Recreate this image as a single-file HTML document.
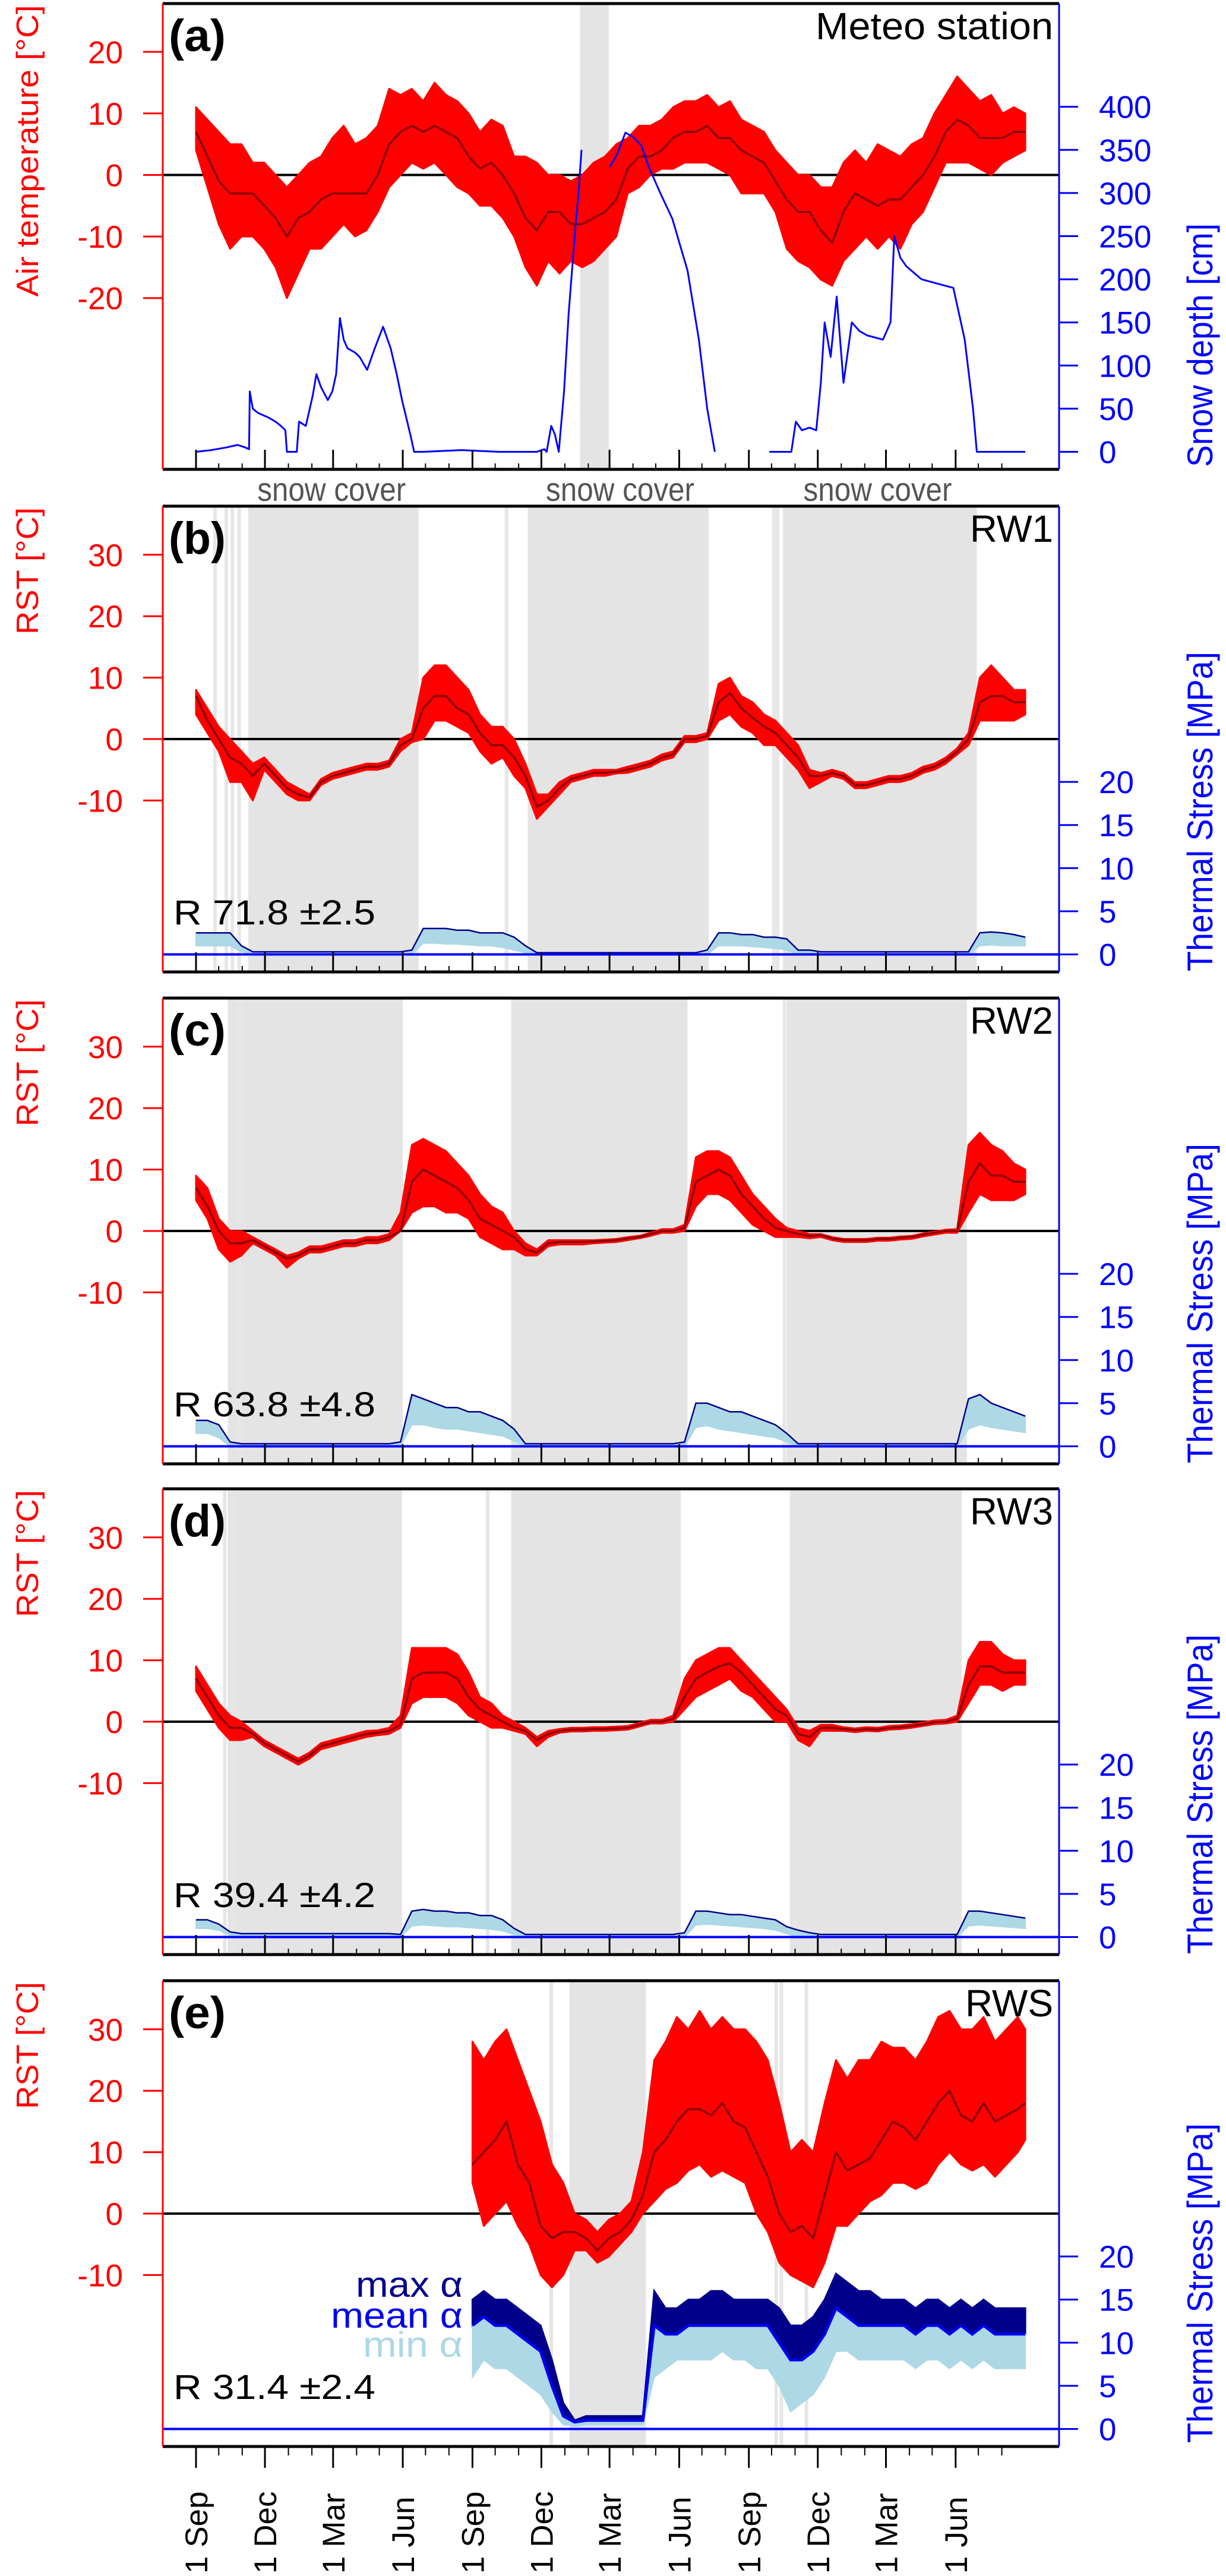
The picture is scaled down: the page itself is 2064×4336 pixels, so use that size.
<!DOCTYPE html>
<html><head><meta charset="utf-8">
<style>
html,body{margin:0;padding:0;background:#fff;}
svg{display:block;font-family:"Liberation Sans",Arial,sans-serif;}
</style></head>
<body>
<svg id="fig" xmlns="http://www.w3.org/2000/svg" width="2064" height="4336" viewBox="0 0 2064 4336"></svg>
<script>
// ---------------- data ----------------
const days15 = [0,15,30,45,60,75,90,105,120,135,150,165,180,195,210,225,240,255,270,285,300,315,330,345,360,375,390,405,420,435,450,465,480,495,510,525,540,555,570,585,600,615,630,645,660,675,690,705,720,735,750,765,780,795,810,825,840,855,870,885,900,915,930,945,960,975,990,1005,1020,1035,1050,1065,1080,1095];
const majorTickDays = [0,91,181,273,365,456,546,638,730,821,911,1003];
const majorTickLabels = ["1 Sep","1 Dec","1 Mar","1 Jun","1 Sep","1 Dec","1 Mar","1 Jun","1 Sep","1 Dec","1 Mar","1 Jun"];
const minorTickDays = [30,61,122,153,212,242,303,334,395,426,487,518,577,607,668,699,760,791,852,883,942,972,1033,1064];

// panel a: air temperature
const aHi = [11,9,7,5,5,2,2,0,-2,0,2,3,6,8,5,6,8,14,13,14,12,15,13,12,10,7,9,8,3,3,2,0,0,-1,0,2,3,5,6,8,8,9,11,12,12,13,11,12,9,8,7,4,2,0,0,-2,-2,2,4,2,5,4,3,5,6,10,13,16,14,12,13,10,11,10];
const aLo = [4,-2,-8,-12,-10,-10,-12,-15,-20,-16,-12,-12,-10,-8,-10,-9,-6,-2,0,2,1,2,0,-2,-3,-5,-5,-7,-10,-15,-18,-14,-16,-14,-15,-14,-12,-10,-3,-2,0,1,1,2,2,2,1,0,-3,-3,-3,-6,-12,-14,-15,-17,-18,-14,-12,-10,-12,-10,-12,-8,-6,-2,2,2,2,1,0,2,3,4];
const aMean = [7,3,-1,-3,-3,-3,-5,-7,-10,-7,-6,-4,-3,-3,-3,-3,0,5,7,8,7,8,7,6,3,1,2,0,-3,-7,-9,-6,-6,-8,-8,-7,-6,-4,1,3,3,4,6,7,7,8,6,6,4,3,2,-1,-4,-6,-6,-9,-11,-6,-3,-4,-5,-4,-4,-2,0,3,7,9,8,6,6,6,7,7];
const snowDay = [0,20,40,55,65,70,71,75,82,95,105,112,118,120,133,136,145,154,159,165,174,180,185,190,195,200,210,216,226,236,247,257,265,272,283,288,300,350,400,450,460,463,469,474,479,486,492,500,505,509,525,546,556,567,577,588,598,613,629,649,664,675,685,720,757,786,792,800,810,819,825,830,838,846,855,866,876,886,907,917,922,930,938,958,979,1000,1015,1026,1031,1050,1095];
const snowCm = [0,2,5,8,5,3,70,50,45,40,35,30,25,0,0,35,30,65,90,75,60,70,90,155,130,120,115,110,95,120,145,120,90,60,20,0,0,2,0,0,3,0,30,20,0,70,160,250,300,350,null,330,345,370,365,355,330,300,270,210,130,50,0,null,0,0,35,25,28,25,80,150,110,180,80,150,140,135,130,150,250,225,215,200,195,190,130,50,0,0,0];

// panel b: RW1
const bMean = [7,3,0,-3,-4,-6,-4,-6,-8,-9,-9.5,-7,-6,-5.5,-5,-4.5,-4.5,-4,-1,0,5,7,7,5,4,1,-1,-1,-3,-6,-11,-10,-8,-6.5,-6,-5.5,-5.5,-5.3,-5,-4.5,-4,-3,-2.5,0,0,0.5,6,7.5,5,3.5,2,1,-1,-3,-6,-6,-5.5,-6,-7.5,-7.5,-7,-6.5,-6.5,-6,-5,-4.5,-3.5,-2,0,6,7,7,6,6];
const bHi = [8,5,2,0,-2,-4,-3,-5,-7,-8,-9,-6.5,-5.5,-5,-4.5,-4,-4,-3.5,0,1,10,12,12,10,8,4,2,2,0,-4,-9,-9,-7,-6,-5.5,-5,-5,-5,-4.5,-4,-3.5,-2.5,-2,0.5,0.5,1,9,10,7,6,4,3,1,-1,-5,-5.5,-5,-5.5,-7,-7,-6.5,-6,-6,-5.5,-4.5,-4,-3,-1.5,1,10,12,10,8,8];
const bLo = [4,1,-2,-7,-7,-10,-5,-7,-9,-10,-10,-7.5,-6.5,-6,-5.5,-5,-5,-4.5,-2,-0.5,0,3,3,2,1,-2,-4,-3,-6,-8,-13,-11,-9,-7,-6.5,-6,-6,-5.6,-5.5,-5,-4.5,-3.5,-3,-0.5,-0.5,0,3,4,2,1,-1,-1,-3,-5,-8,-7,-6,-6.5,-8,-8,-7.5,-7,-7,-6.5,-5.5,-5,-4,-2.5,-1,3,3,3,3,4];
const bStressMax = [2.5,2.5,2.5,2.5,1,0.3,0.3,0.3,0.3,0.3,0.3,0.3,0.3,0.3,0.3,0.3,0.3,0.3,0.3,0.5,3,3,3,2.8,2.8,2.5,2.5,2.5,2,1,0.2,0.2,0.2,0.2,0.2,0.2,0.2,0.2,0.2,0.2,0.2,0.2,0.2,0.2,0.2,0.5,2.5,2.5,2.3,2.3,2,2,1.8,0.5,0.5,0.3,0.3,0.3,0.3,0.3,0.3,0.3,0.3,0.3,0.3,0.3,0.3,0.3,0.3,2.5,2.6,2.5,2.3,2];
const bStressMin = [1,1,1,1,0.3,0,0,0,0,0,0,0,0,0,0,0,0,0,0,0,1.3,1.3,1.2,1.2,1.1,1,1,0.8,0.5,0.2,0,0,0,0,0,0,0,0,0,0,0,0,0,0,0,0,1,1,1,0.9,0.8,0.7,0.5,0,0,0,0,0,0,0,0,0,0,0,0,0,0,0,0,1,1.1,1,1,1];
const bBands = [[69,294],[438,677],[775,1031]];
const bLines = [25,40,48,57,410,763,768];

// panel c: RW2
const cMean = [7,4,0,-2,-2,-1.5,-2.5,-3.5,-4.5,-4,-3,-3,-2.5,-2,-2,-1.5,-1.5,-1,0,8,10,9,8,7,5,2,1,0,-1,-3,-3.5,-2,-1.8,-1.8,-1.8,-1.7,-1.6,-1.5,-1.2,-1,-0.5,0,0,0.5,8,9,10,9,6,4,2,0.5,0,-0.5,-0.8,-0.7,-1.2,-1.5,-1.5,-1.5,-1.3,-1.3,-1.1,-1,-0.6,-0.3,0,0,8,11,9,9,8,8];
const cHi = [9,7,2,0,0,-1,-2,-3,-4,-3.5,-2.5,-2.5,-2,-1.5,-1.5,-1,-1,-0.5,3,14,15,14,13,11,9,6,4,3,0,-2,-3,-1.5,-1.5,-1.5,-1.5,-1.5,-1.4,-1.3,-1,-0.8,-0.3,0.3,0.3,1,12,13,13,12,9,6,4,2,0.5,0,-0.5,-0.5,-1,-1.3,-1.3,-1.3,-1.1,-1.1,-0.9,-0.8,-0.4,-0.1,0.2,0.3,14,16,14,13,11,10];
const cLo = [5,2,-3,-5,-4,-2,-3,-4,-6,-4.5,-3.5,-3.5,-3,-2.5,-2.5,-2,-2,-1.5,0,3,4,4,3,3,2,-1,-2,-3,-3,-4,-4,-2.5,-2.2,-2.2,-2.2,-2,-1.9,-1.8,-1.5,-1.2,-0.8,-0.3,-0.3,0,4,6,6,5,3,1,0,-1,-1,-1,-1.2,-1,-1.5,-1.8,-1.8,-1.8,-1.6,-1.6,-1.4,-1.3,-0.9,-0.6,-0.3,-0.3,3,6,5,5,5,6];
const cStressMax = [3,3,2.5,0.5,0.3,0.3,0.3,0.3,0.3,0.3,0.3,0.3,0.3,0.3,0.3,0.3,0.3,0.3,0.5,6,5.5,5,4.5,4.5,4,4,3.5,3,2,0.3,0.3,0.3,0.3,0.3,0.3,0.3,0.3,0.3,0.3,0.3,0.3,0.3,0.3,0.5,5,5,4.5,4,4,3.5,3,2.5,1.5,0.3,0.3,0.3,0.3,0.3,0.3,0.3,0.3,0.3,0.3,0.3,0.3,0.3,0.3,0.3,5.5,6,5,4.5,4,3.5];
const cStressMin = [1.5,1.5,1,0,0,0,0,0,0,0,0,0,0,0,0,0,0,0,0,2.5,2.5,2.2,2,2,1.8,1.6,1.4,1.2,0.6,0,0,0,0,0,0,0,0,0,0,0,0,0,0,0,2.2,2.4,2,1.8,1.6,1.4,1.2,1,0.5,0,0,0,0,0,0,0,0,0,0,0,0,0,0,0,2,2.5,2.2,2,1.8,1.6];
const cBands = [[42,273],[416,649],[780,1018]];
const cLines = [58,777];

// panel d: RW3
const dMean = [7,4,1,-1,-1,-2,-3.5,-4.5,-5.5,-6.5,-5.5,-4,-3.5,-3,-2.5,-2,-1.8,-1.5,-0.5,7,8,8,8,7,4,2,1,0,-1,-1.5,-3,-2,-1.5,-1.3,-1.3,-1.2,-1.2,-1.1,-1,-0.5,0,0,0.5,4,7,8,9,9.5,8,6,4,2,1,-2,-2.5,-1,-1,-1.2,-1.4,-1.2,-1.3,-1,-0.9,-0.7,-0.4,-0.1,0,0.5,6,9,9,8,8,8];
const dHi = [9,6,3,1,0,-1.5,-3,-4,-5,-6,-5,-3.5,-3,-2.5,-2,-1.5,-1.4,-1,1,12,12,12,12,11,8,4,3,1,0,-1,-2.5,-1.5,-1.2,-1,-1,-0.9,-0.9,-0.8,-0.7,-0.2,0.3,0.3,1,7,10,11,12,12,10,8,6,4,2,-1,-1.5,-0.5,-0.5,-0.9,-1.1,-0.9,-1,-0.7,-0.6,-0.4,-0.1,0.2,0.3,1,10,13,13,11,10,10];
const dLo = [5,2,-1,-3,-3,-2.5,-4,-5,-6,-7,-6,-4.5,-4,-3.5,-3,-2.5,-2.2,-2,-1,3,4,4,4,3,1,0,-1,-1,-1.5,-2,-4,-2.5,-1.8,-1.6,-1.6,-1.5,-1.5,-1.4,-1.3,-0.8,-0.3,-0.3,0,2,4,5,6,7,5,4,2,0,0,-3,-4,-1.5,-1.5,-1.5,-1.7,-1.5,-1.6,-1.3,-1.2,-1,-0.7,-0.4,-0.3,0,3,6,6,5,6,6];
const dStressMax = [2,2,1.5,0.6,0.4,0.4,0.4,0.4,0.4,0.4,0.4,0.4,0.4,0.4,0.4,0.4,0.4,0.4,0.3,3,3.2,3,3,2.8,2.8,2.5,2.5,2,1,0.3,0.3,0.3,0.3,0.3,0.3,0.3,0.3,0.3,0.3,0.3,0.3,0.3,0.3,0.5,3,3,2.8,2.6,2.6,2.4,2.2,2,1.2,0.8,0.5,0.3,0.3,0.3,0.3,0.3,0.3,0.3,0.3,0.3,0.3,0.3,0.3,0.3,3,3,2.8,2.6,2.4,2.2];
const dStressMin = [1,1,0.8,0.2,0.2,0.2,0.2,0.2,0.2,0.2,0.2,0.2,0.2,0.2,0.2,0.2,0.2,0.2,0,1.3,1.4,1.3,1.2,1.2,1.1,1,0.9,0.7,0.3,0,0,0,0,0,0,0,0,0,0,0,0,0,0,0,1.4,1.5,1.4,1.3,1.2,1.1,1,0.8,0.4,0,0,0,0,0,0,0,0,0,0,0,0,0,0,0,1.3,1.4,1.3,1.2,1.1,1];
const dBands = [[42,272],[416,640],[784,1011]];
const dLines = [38,48,385];

// panel e: RWS
const eDays = [365,380,395,410,425,440,455,470,485,500,515,530,545,560,575,590,605,620,635,650,665,680,695,710,725,740,755,770,785,800,815,830,845,860,875,890,905,920,935,950,965,980,995,1010,1025,1040,1055,1070,1085,1095];
const eMean = [8,10,12,15,8,5,-2,-4,-3,-3,-4,-6,-4,-3,-1,3,10,12,15,17,17,16,18,15,14,10,6,0,-3,-2,-4,3,10,7,8,9,12,15,14,12,15,18,20,16,15,18,15,16,17,18];
const eHi = [28,25,28,30,25,20,15,8,5,0,-1,-3,-1,0,2,10,25,28,32,30,33,30,32,30,30,28,25,18,10,12,10,18,25,22,25,25,28,27,27,25,28,32,33,30,30,32,28,30,32,30];
const eLo = [5,-2,0,2,-2,-5,-10,-12,-10,-6,-6,-8,-7,-5,-3,0,2,4,5,7,8,6,7,6,5,0,-3,-8,-10,-11,-12,-8,-2,-2,0,2,3,5,5,4,5,8,10,8,7,8,6,8,10,12];
const eStressMax = [15,16,15,15,14,13,12,8,3,1,1.5,1.5,1.5,1.5,1.5,1.5,16,14,14,15,15,16,16,15,15,15,15,14,12,12,13,15,18,17,16,16,15,15,15,14,15,15,14,15,14,15,14,14,14,14];
const eStressMean = [12,13,12,12,11,10,9,5,1.5,0.8,1,1,1,1,1,1,12,11,11,12,12,12,12,12,12,12,12,10,8,8,9,11,14,13,12,12,12,12,12,11,12,12,11,12,11,12,11,11,11,11];
const eStressMin = [6,8,7,7,6,5,4,2,0.5,0.3,0.5,0.5,0.5,0.5,0.5,0.5,6,7,8,8,8,8,9,8,8,7,7,5,2,3,4,6,9,9,8,8,8,8,8,7,8,8,7,8,7,8,7,7,7,7];
const eBands = [[493,594]];
const eLines = [469,766,773,806];
const aBands = [[507,545]];

const snowLabelDays = [179,560,900];

// ---------------- helpers ----------------
const NS = "http://www.w3.org/2000/svg";
const svg = document.getElementById('fig');
function mk(tag, attrs, parent){
  const el = document.createElementNS(NS, tag);
  for (const k in attrs) el.setAttribute(k, attrs[k]);
  (parent || svg).appendChild(el);
  return el;
}
const PL = 274, PR = 1783, PH = 784;
function X(d){ return 330 + d * 1.275; }
const tops = [6, 852, 1680, 2506, 3334];

function tempScale(T, isA){
  if (isA) return v => T + 288.5 - v * 10.36;
  return v => T + 392 - v * 10.34;
}
function stressScale(T){ return v => T + 754.5 - v * 14.52; }
function cmScale(T){ return v => T + 754.5 - v * 1.452; }

function bandPath(days, hi, lo, fx, fy){
  let p = '';
  for (let i = 0; i < days.length; i++) p += (i ? 'L' : 'M') + fx(days[i]).toFixed(1) + ',' + fy(hi[i]).toFixed(1);
  for (let i = days.length - 1; i >= 0; i--) p += 'L' + fx(days[i]).toFixed(1) + ',' + fy(lo[i]).toFixed(1);
  return p + 'Z';
}
function linePath(days, vals, fx, fy){
  let p = '', pen = false;
  for (let i = 0; i < days.length; i++){
    if (vals[i] === null){ pen = false; continue; }
    p += (pen ? 'L' : 'M') + fx(days[i]).toFixed(1) + ',' + fy(vals[i]).toFixed(1);
    pen = true;
  }
  return p;
}

function drawPanel(idx, cfg){
  const T = tops[idx];
  const g = mk('g', {});
  
  
  const clipId = 'clip' + idx;
  const cp = mk('clipPath', {id: clipId}, g);
  mk('rect', {x: PL, y: T, width: PR - PL, height: PH}, cp);
  const plot = mk('g', {'clip-path': 'url(#' + clipId + ')'}, g);
  
  
  const ty = tempScale(T, cfg.isA);
  const sy = cfg.isA ? cmScale(T) : stressScale(T);

  // snow cover bands
  (cfg.bands || []).forEach(b => {
    const r = mk('rect', {x: X(b[0]), y: T, width: X(b[1]) - X(b[0]), height: PH, fill: '#e4e4e4'}, plot);
    
    
  });
  (cfg.lines || []).forEach(d => {
    const r = mk('rect', {x: X(d) - 3, y: T, width: 6, height: PH, fill: '#e6e6e6'}, plot);
    
    
  });
  // zero line
  const z = mk('line', {x1: PL, x2: PR, y1: ty(0), y2: ty(0), stroke: '#000', 'stroke-width': 4}, plot);
  
  
  // temp band
  const band = mk('path', {d: bandPath(cfg.days, cfg.hi, cfg.lo, X, ty), fill: '#ff0000', stroke: '#ff0000', 'stroke-width': 3, 'stroke-linejoin': 'round'}, plot);
  
  
  const mean = mk('path', {d: linePath(cfg.days, cfg.mean, X, ty), fill: 'none', stroke: '#8b0000', 'stroke-width': 3.5, 'stroke-linejoin': 'round'}, plot);
  
  

  if (cfg.isA){
    const sn = mk('path', {d: linePath(snowDay, snowCm, X, sy), fill: 'none', stroke: '#0000ff', 'stroke-width': 3, 'stroke-linejoin': 'round'}, plot);
    
    
  } else if (cfg.sMean){
    const mx = mk('path', {d: bandPath(cfg.sDays, cfg.sMax, cfg.sMean, X, sy), fill: '#00008b', stroke: '#00008b', 'stroke-width': 3}, plot);
    
    
    const mn = mk('path', {d: bandPath(cfg.sDays, cfg.sMean, cfg.sMin, X, sy), fill: '#add8e6', stroke: '#add8e6', 'stroke-width': 2}, plot);
    
    
    const me = mk('path', {d: linePath(cfg.sDays, cfg.sMean, X, sy), fill: 'none', stroke: '#0000ee', 'stroke-width': 5}, plot);
    
    
  } else {
    const mn = mk('path', {d: bandPath(cfg.days, cfg.sMax, cfg.sMin, X, sy), fill: '#add8e6', stroke: '#add8e6', 'stroke-width': 2}, plot);
    
    
    const mx = mk('path', {d: linePath(cfg.days, cfg.sMax, X, sy), fill: 'none', stroke: '#00008b', 'stroke-width': 2.5}, plot);
    
    
  }
  if (!cfg.isA){
    const bz = mk('line', {x1: PL, x2: PR, y1: sy(0), y2: sy(0), stroke: '#0000ff', 'stroke-width': 4}, g);
    
    
  }

  // x ticks
  const inward = idx < 4;
  const yb = T + PH;
  majorTickDays.forEach(d => {
    const t = mk('line', {x1: X(d), x2: X(d), y1: yb, y2: inward ? yb - 33 : yb + 36, stroke: '#000', 'stroke-width': 3}, g);
    
    
  });
  minorTickDays.forEach(d => {
    const t = mk('line', {x1: X(d), x2: X(d), y1: yb, y2: inward ? yb - 10 : yb + 15, stroke: '#000', 'stroke-width': 2}, g);
    
    
  });

  // frame
  let f;
  f = mk('line', {x1: PL, x2: PR, y1: T, y2: T, stroke: '#000', 'stroke-width': 5}, g);
   
  f = mk('line', {x1: PL, x2: PR, y1: yb, y2: yb, stroke: '#000', 'stroke-width': 5}, g);
   
  f = mk('line', {x1: PL, x2: PL, y1: T, y2: yb, stroke: '#ff0000', 'stroke-width': 3}, g);
   
  f = mk('line', {x1: PR, x2: PR, y1: T, y2: yb, stroke: '#0000ff', 'stroke-width': 3}, g);
   

  // left ticks
  cfg.leftTicks.forEach(v => {
    const t = mk('line', {x1: 241, x2: PL, y1: ty(v), y2: ty(v), stroke: '#ff0000', 'stroke-width': 3}, g);
    
    
    const l = mk('text', {x: 207, y: ty(v) + 19, 'text-anchor': 'end', 'font-size': 53, fill: '#ff0000'}, g);
    
    
    l.textContent = String(v);
  });
  cfg.rightTicks.forEach(v => {
    const t = mk('line', {x1: PR, x2: 1815, y1: sy(v), y2: sy(v), stroke: '#0000ff', 'stroke-width': 3}, g);
    
    
    const l = mk('text', {x: 1850, y: sy(v) + 19, 'text-anchor': 'start', 'font-size': 53, fill: '#0000ff'}, g);
    
    
    l.textContent = String(v);
  });
  // axis titles
  const lt = mk('text', {x: 0, y: 0, transform: 'translate(64,' + (T + cfg.ltCenter) + ') rotate(-90)', 'text-anchor': 'middle', 'font-size': 52, fill: '#ff0000', textLength: cfg.ltLen, lengthAdjust: 'spacingAndGlyphs'}, g);
  
  
  lt.textContent = cfg.ltText;
  const rt = mk('text', {x: 0, y: 0, transform: 'translate(2041,' + (T + cfg.rtCenter) + ') rotate(-90)', 'text-anchor': 'middle', 'font-size': 60, fill: '#0000ff', textLength: cfg.rtLen, lengthAdjust: 'spacingAndGlyphs'}, g);
  
  
  rt.textContent = cfg.rtText;

  // labels
  const pl = mk('text', {x: 284, y: T + 80, 'font-size': 76, 'font-weight': 'bold', fill: '#000', textLength: 96, lengthAdjust: 'spacingAndGlyphs'}, g);
  
  
  pl.textContent = '(' + cfg.letter + ')';
  const nm = mk('text', {x: 1773, y: T + 60, 'text-anchor': 'end', 'font-size': 64, fill: '#000', textLength: cfg.nameLen, lengthAdjust: 'spacingAndGlyphs'}, g);
  
  
  nm.textContent = cfg.name;
  if (cfg.rText){
    const r = mk('text', {x: 292, y: T + 704, 'font-size': 58, fill: '#000', textLength: 340, lengthAdjust: 'spacingAndGlyphs'}, g);
    
    
    r.textContent = cfg.rText;
  }
}

const tl = [30,20,10,0,-10];
const st = [0,5,10,15,20];
drawPanel(0, {letter:'a', isA:true, days:days15, hi:aHi, lo:aLo, mean:aMean, bands:aBands, lines:[],
  leftTicks:[20,10,0,-10,-20], rightTicks:[0,50,100,150,200,250,300,350,400],
  ltText:'Air temperature [°C]', ltCenter:248, ltLen:491, rtText:'Snow depth [cm]', rtCenter:575, rtLen:410,
  name:'Meteo station', nameLen:400});
drawPanel(1, {letter:'b', days:days15, hi:bHi, lo:bLo, mean:bMean, sMax:bStressMax, sMin:bStressMin, bands:bBands, lines:bLines,
  leftTicks:tl, rightTicks:st, ltText:'RST [°C]', ltCenter:109, ltLen:214, rtText:'Thermal Stress [MPa]', rtCenter:514, rtLen:538,
  name:'RW1', nameLen:140, rText:'R 71.8 ±2.5'});
drawPanel(2, {letter:'c', days:days15, hi:cHi, lo:cLo, mean:cMean, sMax:cStressMax, sMin:cStressMin, bands:cBands, lines:cLines,
  leftTicks:tl, rightTicks:st, ltText:'RST [°C]', ltCenter:109, ltLen:214, rtText:'Thermal Stress [MPa]', rtCenter:514, rtLen:538,
  name:'RW2', nameLen:140, rText:'R 63.8 ±4.8'});
drawPanel(3, {letter:'d', days:days15, hi:dHi, lo:dLo, mean:dMean, sMax:dStressMax, sMin:dStressMin, bands:dBands, lines:dLines,
  leftTicks:tl, rightTicks:st, ltText:'RST [°C]', ltCenter:109, ltLen:214, rtText:'Thermal Stress [MPa]', rtCenter:514, rtLen:538,
  name:'RW3', nameLen:140, rText:'R 39.4 ±4.2'});
drawPanel(4, {letter:'e', days:eDays, hi:eHi, lo:eLo, mean:eMean, sDays:eDays, sMax:eStressMax, sMean:eStressMean, sMin:eStressMin, bands:eBands, lines:eLines,
  leftTicks:tl, rightTicks:st, ltText:'RST [°C]', ltCenter:109, ltLen:214, rtText:'Thermal Stress [MPa]', rtCenter:509, rtLen:538,
  name:'RWS', nameLen:148, rText:'R 31.4 ±2.4'});

// snow cover labels
snowLabelDays.forEach(d => {
  const t = mk('text', {x: X(d), y: 843, 'text-anchor': 'middle', 'font-size': 56, fill: '#555', textLength: 250, lengthAdjust: 'spacingAndGlyphs'});
  
  
  t.textContent = 'snow cover';
});

// legend in panel e
const legendTexts = ['max α', 'mean α', 'min α'];
const legendColors = ['#00008b', '#0000ee', '#add8e6'];
const legendY = [3866, 3918, 3967];
const legendLen = [180, 222, 168];
legendTexts.forEach((s, i) => {
  const t = mk('text', {x: 779, y: legendY[i], 'text-anchor': 'end', 'font-size': 60, fill: legendColors[i], textLength: legendLen[i], lengthAdjust: 'spacingAndGlyphs'});
  
  
  t.textContent = s;
});

// bottom date labels
majorTickLabels.forEach((s, i) => {
  const x = X(majorTickDays[i]) + 19;
  const t = mk('text', {x: 0, y: 0, transform: 'translate(' + x + ',4332) rotate(-90)', 'text-anchor': 'start', 'font-size': 53, fill: '#000'});
  
  
  t.textContent = s;
});
</script>
</body></html>
